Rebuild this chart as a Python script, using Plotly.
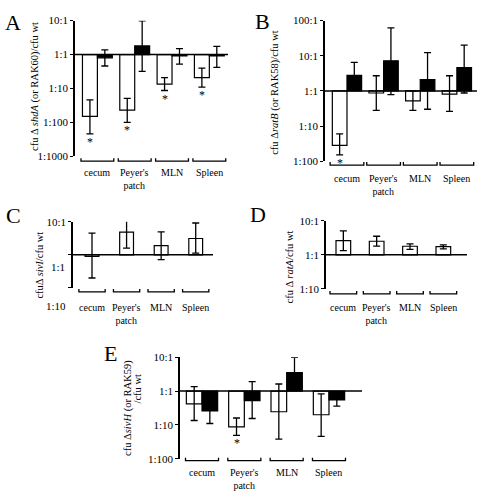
import math
import plotly.graph_objects as go

W, H = 483, 495
FONT = "Liberation Serif"

# ---------------- data ----------------
categories = ["cecum", "Peyer's patch", "MLN", "Spleen"]
cat_labels = ["cecum", "Peyer's<br>patch", "MLN", "Spleen"]

# Panel A : shdA mutant (white) and RAK60 (black)
A_white = [0.015, 0.023, 0.135, 0.21]
A_white_hi = [0.046, 0.051, 0.21, 0.40]
A_white_lo = [0.0046, 0.010, 0.087, 0.11]
A_black = [0.80, 1.8, 0.92, 0.92]
A_black_hi = [1.38, 9.8, 1.5, 1.74]
A_black_lo = [0.46, 0.32, 0.52, 0.42]
A_star = [True, True, True, True]
A_tickvals = [10, 1, 0.1, 0.01, 0.001]
A_ticktext = ["10:1", "1:1", "1:10", "1:100", "1:1000"]

# Panel B : ratB mutant (white) and RAK58 (black)
B_white = [0.028, 0.87, 0.52, 0.81]
B_white_hi = [0.060, 2.7, 1.0, 2.7]
B_white_lo = [0.015, 0.28, 0.28, 0.26]
B_black = [2.75, 7.2, 2.1, 4.6]
B_black_hi = [6.5, 62, 12.3, 20]
B_black_lo = [1.1, 0.78, 0.30, 0.87]
B_star = [True, False, False, False]
B_tickvals = [100, 10, 1, 0.1, 0.01]
B_ticktext = ["100:1", "10:1", "1:1", "1:10", "1:100"]

# Panel C : sivI mutant
C_white = [0.89, 4.8, 1.9, 3.1]
C_white_hi = [4.5, 13.5, 4.9, 9.1]
C_white_lo = [0.20, 1.6, 0.72, 1.12]
C_tickvals = [10, 1, 0.1]
C_ticktext = ["10:1", "1:1", "1:10"]

# Panel D : ratA mutant
D_white = [2.6, 2.5, 1.78, 1.74]
D_white_hi = [5.0, 3.5, 2.1, 1.95]
D_white_lo = [1.32, 1.8, 1.45, 1.5]
D_tickvals = [10, 1, 0.1]
D_ticktext = ["10:1", "1:1", "1:10"]

# Panel E : sivH mutant (white) and RAK59 (black)
E_white = [0.42, 0.087, 0.245, 0.20]
E_white_hi = [1.35, 0.16, 1.62, 0.83]
E_white_lo = [0.135, 0.049, 0.038, 0.046]
E_black = [0.26, 0.52, 3.5, 0.55]
E_black_hi = [0.65, 1.9, 10, 0.87]
E_black_lo = [0.11, 0.155, 1.1, 0.36]
E_star = [False, True, False, False]
E_tickvals = [10, 1, 0.1, 0.01]
E_ticktext = ["10:1", "1:1", "1:10", "1:100"]


def px(x):
    return x / W


def py(y):
    return 1 - y / H


fig = go.Figure()

panels = [
    dict(n=1, letter="A", xdom=(75, 228), xr=(-0.6, 3.5), ydom=(154, 15), yr=(-3, 1),
         tv=A_tickvals, tt=A_ticktext, bw=0.4, br_y=159, br_h=0.44, lab_y=170,
         series=[(A_white, A_white_hi, A_white_lo, "white", -0.4),
                 (A_black, A_black_hi, A_black_lo, "black", 0.0)], star=A_star, star_off=-0.2,
         title="cfu Δ <i>shdA</i> (or RAK60)/cfu wt", title_xy=(35, 83), letter_xy=(13, 17)),
    dict(n=2, letter="B", xdom=(325, 477), xr=(-0.6, 3.55), ydom=(159, 15), yr=(-2, 2),
         tv=B_tickvals, tt=B_ticktext, bw=0.4, br_y=163, br_h=0.46, lab_y=176,
         series=[(B_white, B_white_hi, B_white_lo, "white", -0.4),
                 (B_black, B_black_hi, B_black_lo, "black", 0.0)], star=B_star, star_off=-0.2,
         title="cfu Δ<i>ratB</i> (or RAK58)/cfu wt", title_xy=(275, 89), letter_xy=(262, 16)),
    dict(n=3, letter="C", xdom=(73, 213), xr=(-0.55, 3.5), ydom=(289, 221), yr=(-1, 1),
         tv=C_tickvals, tt=["10:1", "", ""], bw=0.4, br_y=293, br_h=0.38, lab_y=308,
         series=[(C_white, C_white_hi, C_white_lo, "white", -0.2)], star=None, star_off=0,
         title="cfuΔ <i>sivI</i>/cfu wt", title_xy=(40, 266), letter_xy=(13, 215)),
    dict(n=4, letter="D", xdom=(326, 467), xr=(-0.52, 3.71), ydom=(290, 220), yr=(-1, 1),
         tv=D_tickvals, tt=D_ticktext, bw=0.44, br_y=295, br_h=0.40, lab_y=308,
         series=[(D_white, D_white_hi, D_white_lo, "white", -0.22)], star=None, star_off=0,
         title="cfu Δ <i>ratA</i>/cfu wt", title_xy=(290, 268), letter_xy=(258, 214)),
    dict(n=5, letter="E", xdom=(180, 362), xr=(-0.52, 3.78), ydom=(464, 360), yr=(-2, 1),
         tv=E_tickvals, tt=E_ticktext, bw=0.37, br_y=466, br_h=0.39, lab_y=477,
         series=[(E_white, E_white_hi, E_white_lo, "white", -0.37),
                 (E_black, E_black_hi, E_black_lo, "black", 0.0)], star=E_star, star_off=-0.185,
         title=None, title_xy=None, letter_xy=(110, 356)),
]

shapes = []
annotations = []
xs = list(range(len(categories)))

for p in panels:
    n = p["n"]
    sfx = "" if n == 1 else str(n)
    xa, ya = "x" + sfx, "y" + sfx
    for vals, hi, lo, col, off in p["series"]:
        fig.add_trace(go.Bar(
            x=xs, y=[v - 1 for v in vals], base=1, offset=off, width=p["bw"],
            marker=dict(color=col, line=dict(color="black", width=1.2)),
            error_y=dict(type="data", symmetric=False,
                         array=[h - v for h, v in zip(hi, vals)],
                         arrayminus=[v - l for v, l in zip(vals, lo)],
                         color="black", thickness=1.3, width=3.5),
            xaxis=xa, yaxis=ya, showlegend=False, cliponaxis=False,
            hovertext=categories,
        ))
    fig.layout["xaxis" + sfx] = dict(
        domain=[px(p["xdom"][0]), px(p["xdom"][1])], range=list(p["xr"]),
        visible=False, anchor=ya, fixedrange=True)
    fig.layout["yaxis" + sfx] = dict(
        domain=[py(p["ydom"][0]), py(p["ydom"][1])], range=list(p["yr"]), type="log",
        anchor=xa, tickvals=p["tv"], ticktext=p["tt"], showline=True, linecolor="black",
        linewidth=1.5, ticks="outside", ticklen=3, tickwidth=1.3, tickcolor="black",
        showgrid=False, zeroline=False, fixedrange=True,
        tickfont=dict(family=FONT, size=11, color="black"))
    # 1:1 reference line
    shapes.append(dict(type="line", xref=xa + " domain", yref=ya, x0=0, x1=1, y0=1, y1=1,
                       line=dict(color="black", width=1.5)))
    # brackets under categories
    yb = py(p["br_y"])
    yt = py(p["br_y"] - 3)
    for i in xs:
        a, b = i - p["br_h"], i + p["br_h"]
        shapes.append(dict(type="path", xref=xa, yref="paper",
                           path=f"M {a},{yt} L {a},{yb} L {b},{yb} L {b},{yt}",
                           line=dict(color="black", width=1.3)))
    for i in xs:
        annotations.append(dict(xref=xa, yref="paper", x=i, y=py(p["lab_y"] - 7),
                                text=cat_labels[i], showarrow=False, yanchor="top",
                                xanchor="center",
                                font=dict(family=FONT, size=10, color="black")))
    # significance stars
    if p["star"]:
        lo = p["series"][0][2]
        for i in xs:
            if p["star"][i]:
                annotations.append(dict(xref=xa, yref=ya, x=i + p["star_off"],
                                        y=math.log10(lo[i]), text="*", showarrow=False,
                                        yanchor="top", yshift=1,
                                        font=dict(family=FONT, size=12, color="black")))
    # panel letter
    annotations.append(dict(xref="paper", yref="paper", x=px(p["letter_xy"][0]),
                            y=py(p["letter_xy"][1]), text=p["letter"], showarrow=False,
                            xanchor="center", yanchor="middle",
                            font=dict(family=FONT, size=22, color="black")))
    if p["title"]:
        annotations.append(dict(xref="paper", yref="paper", x=px(p["title_xy"][0]),
                                y=py(p["title_xy"][1]), text=p["title"], textangle=-90,
                                showarrow=False, xanchor="center", yanchor="middle",
                                font=dict(family=FONT, size=10.5, color="black")))

# Panel E two-line y title
annotations.append(dict(xref="paper", yref="paper", x=px(128), y=py(412),
                        text="cfu Δ<i>sivH</i> (or RAK59)", textangle=-90, showarrow=False,
                        xanchor="center", yanchor="middle",
                        font=dict(family=FONT, size=10.5, color="black")))
annotations.append(dict(xref="paper", yref="paper", x=px(137), y=py(392),
                        text="/cfu wt", textangle=-90, showarrow=False,
                        xanchor="center", yanchor="middle",
                        font=dict(family=FONT, size=10.5, color="black")))

# Panel C tick labels as printed (offset from their ticks in the original)
annotations.append(dict(xref="paper", yref="paper", x=px(67), y=py(267), text=C_ticktext[1],
                        showarrow=False, xanchor="right", yanchor="middle",
                        font=dict(family=FONT, size=11, color="black")))
annotations.append(dict(xref="paper", yref="paper", x=px(68), y=py(307), text=C_ticktext[2],
                        showarrow=False, xanchor="right", yanchor="middle",
                        font=dict(family=FONT, size=11, color="black")))

fig.update_layout(
    width=W, height=H, autosize=False,
    margin=dict(l=0, r=0, t=0, b=0),
    paper_bgcolor="white", plot_bgcolor="white",
    barmode="overlay", showlegend=False,
    shapes=shapes, annotations=annotations,
    font=dict(family=FONT, color="black"),
)

fig.write_html("out.html",
               config={"displayModeBar": False},
               post_script="document.body.style.margin='0';"
                           "document.documentElement.style.overflow='hidden';")
